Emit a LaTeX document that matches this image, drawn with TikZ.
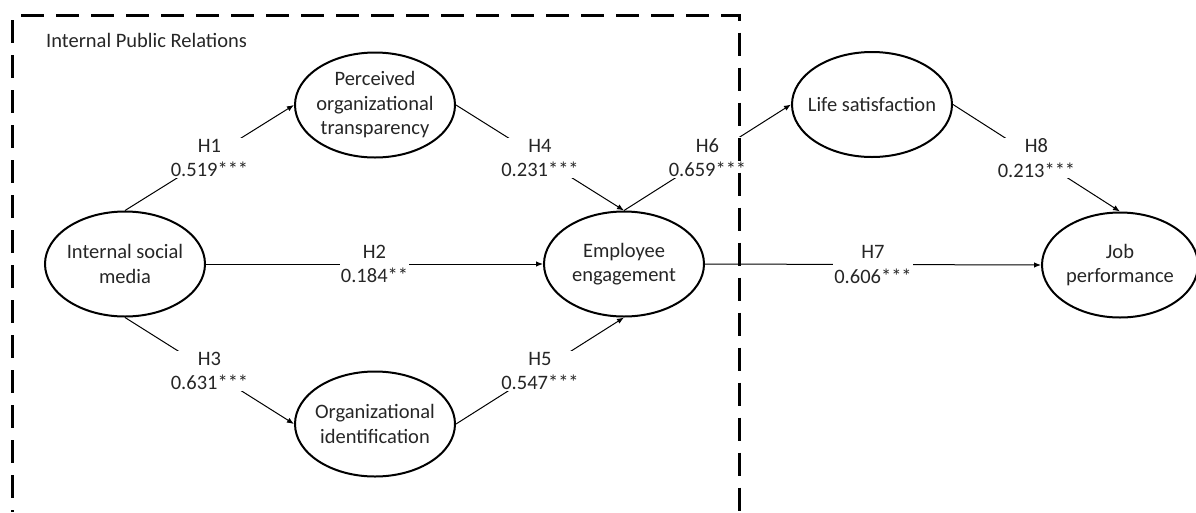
\documentclass[tikz,border=0pt]{standalone}
\usepackage{fontspec}
\setmainfont{Carlito}
\usetikzlibrary{shapes.geometric,arrows.meta}
\begin{document}
\begin{tikzpicture}[x=1pt,y=-1pt,
  latent/.style={ellipse,draw,line width=2pt,inner sep=0pt,minimum width=160pt,minimum height=105pt},
  lbl/.style={align=center,inner sep=0pt,font=\fontsize{20.5}{24.5}\selectfont,text=black!85},
  conn/.style={line width=1pt,-{Latex[length=7pt,width=5.5pt]}},
  est/.style={fill=white,inner sep=1pt,align=center,font=\fontsize{20.5}{24.5}\selectfont,text=black!85},
  prbox/.style={line width=3pt,dash pattern=on 23pt off 12pt}
]
\useasboundingbox (0,0) rectangle (1196,512);

% latent variables
\node[latent] (ISM) at (125,264) {};
\node[latent] (POT) at (375,105) {};
\node[latent] (OI)  at (375,424) {};
\node[latent] (EE)  at (624,264) {};
\node[latent] (LS)  at (872,104.5) {};
\node[latent,minimum width=156pt] (JP)  at (1120,265) {};

\node[lbl] (tISM) at (ISM) {Internal social\\media};
\node[lbl] (tPOT) at (POT) {Perceived\\organizational\\transparency};
\node[lbl] (tOI)  at (OI)  {Organizational\\identification};
\node[lbl] (tEE)  at (EE)  {Employee\\engagement};
\node[lbl] (tLS)  at (LS)  {Life satisfaction};
\node[lbl] (tJP)  at (JP)  {Job\\performance};

% paths
\draw[conn] (ISM.north) -- node[est]{H1\\0.519***} (POT.west);
\draw[conn] (ISM.east)  -- node[est]{H2\\0.184**}  (EE.west);
\draw[conn] (ISM.south) -- node[est]{H3\\0.631***} (OI.west);
\draw[conn] (POT.east)  -- node[est]{H4\\0.231***} (EE.north);
\draw[conn] (OI.east)   -- node[est]{H5\\0.547***} (EE.south);
\draw[conn] (EE.north)  -- node[est]{H6\\0.659***} (LS.west);
\draw[conn] (EE.east)   -- node[est]{H7\\0.606***} (JP.west);
\draw[conn] (LS.east)   -- node[est]{H8\\0.213***} (JP.north);

% internal public relations frame
\node[lbl,anchor=west] (ipr) at (46,40) {Internal Public Relations};
\coordinate (ftl) at (12,20);
\coordinate (fbl) at (12,512);
\coordinate (ftl2) at (21,15.5);
\coordinate (ftr) at (739,15.5);
\coordinate (fbr) at (739,512);
\draw[prbox] (ftl) -- (fbl);
\draw[prbox] (ftl2) -- (ftr) -- (fbr);
\end{tikzpicture}
\end{document}
